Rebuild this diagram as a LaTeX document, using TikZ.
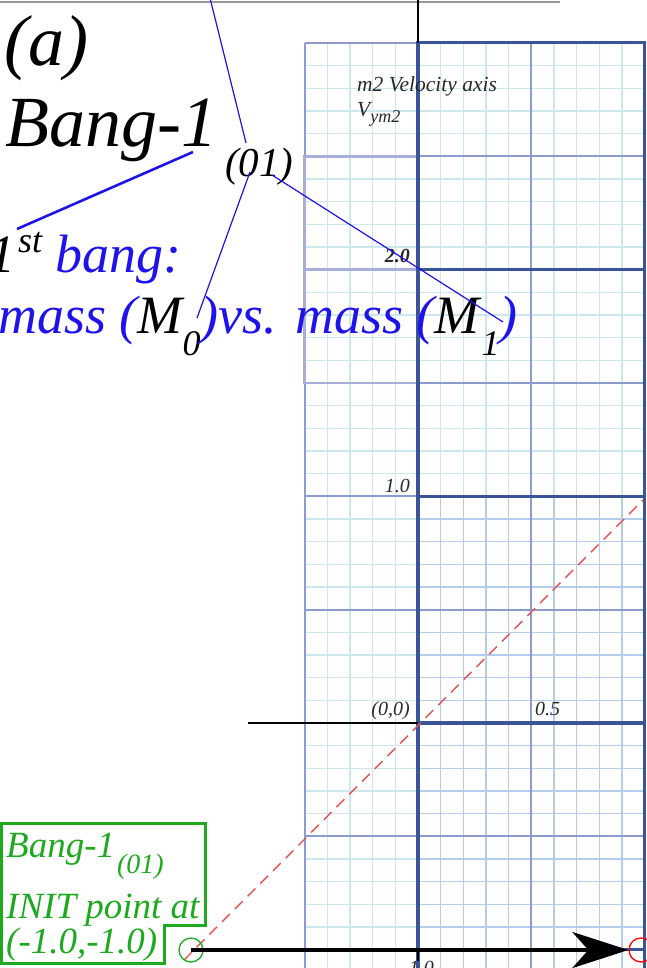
\documentclass[tikz,border=0pt]{standalone}
\usepackage{fontspec}
\setmainfont{Liberation Serif}
\usetikzlibrary{arrows.meta}

\definecolor{inkblue}{RGB}{30,20,235}
\definecolor{initgreen}{RGB}{30,170,30}
\definecolor{gridpale}{RGB}{205,232,236}
\definecolor{gridsky}{RGB}{178,206,236}
\definecolor{gridmid}{RGB}{140,156,208}
\definecolor{gridleft}{RGB}{165,175,218}
\definecolor{griddark}{RGB}{58,84,152}
\definecolor{labelgray}{RGB}{40,40,40}
\definecolor{dashred}{RGB}{230,80,80}

\newcommand{\fsz}[1]{\fontsize{#1}{#1}\selectfont}

\begin{document}
\begin{tikzpicture}[x=1pt,y=-1pt,
		lbl/.style={inner sep=0pt, anchor=base west, font=\itshape},
		gridlbl/.style={inner sep=0pt, font=\itshape\fsz{20}, text=labelgray},
		leader/.style={inkblue, line width=1.2pt},
		markcirc/.style={circle, inner sep=0pt, minimum size=24pt, line width=1.3pt}]
	\useasboundingbox (0,0) rectangle (646,968);

	% velocity grid, origin at (0,0)
	\begin{scope}[shift={(418,723)}, x=113.35pt, y=113.35pt]
		\draw[gridpale, line width=1.3pt, step=0.2] (-1,-2.2) grid (2,6);
		\draw[gridsky, line width=1.5pt, step=0.2] (0,-2.2) grid (2,2);
		\draw[gridmid, line width=1.8pt, step=1] (-1,-2.2) grid (2,6);
		\draw[gridleft, line width=2.6pt] (-1,3) rectangle (0,5);
		\draw[gridleft, line width=2.6pt] (-1,4) -- (0,4);
		\draw[griddark, line width=3.2pt] (0,-2.2) -- (0,6) -- (2,6) -- (2,-2.2);
		\foreach \y in {-2,0,2,4}
			\draw[griddark, line width=3.2pt] (0,\y) -- (2,\y);
	\end{scope}

	% top frame edge
	\draw[gray!80, line width=2.5pt] (0,2) -- (560,2);

	% axes
	\draw[line width=2pt] (418,0) -- (418,43);
	\draw[line width=2.5pt] (248,723) -- (418,723);
	\draw[line width=2pt] (418,950) -- (418,961);

	% diagonal from the init point
	\coordinate (dashlo) at (184,960);
	\coordinate (dashhi) at (643,500);
	\draw[dashred, line width=1.4pt, dash pattern=on 11pt off 7pt] (dashlo) -- (dashhi);

	% start and end points
	\node[markcirc, draw=initgreen] (initpt) at (191,950) {};
	\node[markcirc, draw=red] (endpt) at (641,950) {};
	\draw[line width=4pt, -{Stealth[length=56pt, width=36pt, inset=16pt]}] (initpt.center) -- (endpt.west);

	% grid labels
	\node[gridlbl, anchor=base west, font=\itshape\fsz{21.5}] (vlabel) at (357,92) {m2 Velocity axis};
	\node[gridlbl, anchor=base west, font=\itshape\fsz{21.5}] (vsym) at (357,117) {V\raisebox{-6pt}{\fsz{18}ym2}};
	\node[gridlbl, anchor=base east, font=\bfseries\itshape\fsz{20}] (ytwo) at (410,262) {2.0};
	\node[gridlbl, anchor=base east] (yone) at (410,492) {1.0};
	\node[gridlbl, anchor=base east] (orig) at (410,715) {(0,0)};
	\node[gridlbl, anchor=base west] (xhalf) at (535,715) {0.5};
	\node[gridlbl, anchor=north] (xneg) at (418,961) {-1.0};

	% init point box
	\draw[initgreen, line width=3pt] (1,823) -- (205,823) -- (205,925) -- (164,925) -- (164,963) -- (1,963) -- cycle;
	\node[lbl, font=\itshape\fsz{37}, text=initgreen] (initA) at (6,857) {Bang-1\kern2pt\raisebox{-16pt}{\fsz{28}(01)}};
	\node[lbl, font=\itshape\fsz{37}, text=initgreen] (initB) at (6,918) {INIT point at};
	\node[lbl, font=\itshape\fsz{37}, text=initgreen] (initC) at (6,953) {(-1.0,-1.0)};

	% titles
	\node[lbl, font=\itshape\fsz{72}] (tag) at (4,66) {(a)};
	\node[lbl, font=\itshape\fsz{72}] (title) at (5,147) {Bang-1\kern8pt\raisebox{-30pt}{\fsz{41}(01)}};
	\node[lbl, font=\itshape\fsz{54}, text=inkblue] (first) at (-12,272) {\textcolor{black}{1\kern3pt\raisebox{20pt}{\fsz{36}st}} bang:};
	\node[lbl, font=\itshape\fsz{54}, text=inkblue] (pair) at (-2,333) {mass (\textcolor{black}{M\raisebox{-22pt}{\fsz{36}0}})vs. mass (\textcolor{black}{M\kern2pt\raisebox{-22pt}{\fsz{36}1}})};

	% leader lines
	\coordinate (topfoot) at (210,-2);
	\coordinate (subtop) at (246,143);
	\coordinate (titlefoot) at (193,152);
	\coordinate (firsttop) at (17,229);
	\coordinate (subleft) at (250,172);
	\coordinate (mzero) at (197,318);
	\coordinate (subright) at (272,175);
	\coordinate (mone) at (503,322);
	\draw[leader] (topfoot) -- (subtop);
	\draw[leader, line width=2.6pt] (titlefoot) -- (firsttop);
	\draw[leader] (subleft) -- (mzero);
	\draw[leader] (subright) -- (mone);
\end{tikzpicture}
\end{document}
